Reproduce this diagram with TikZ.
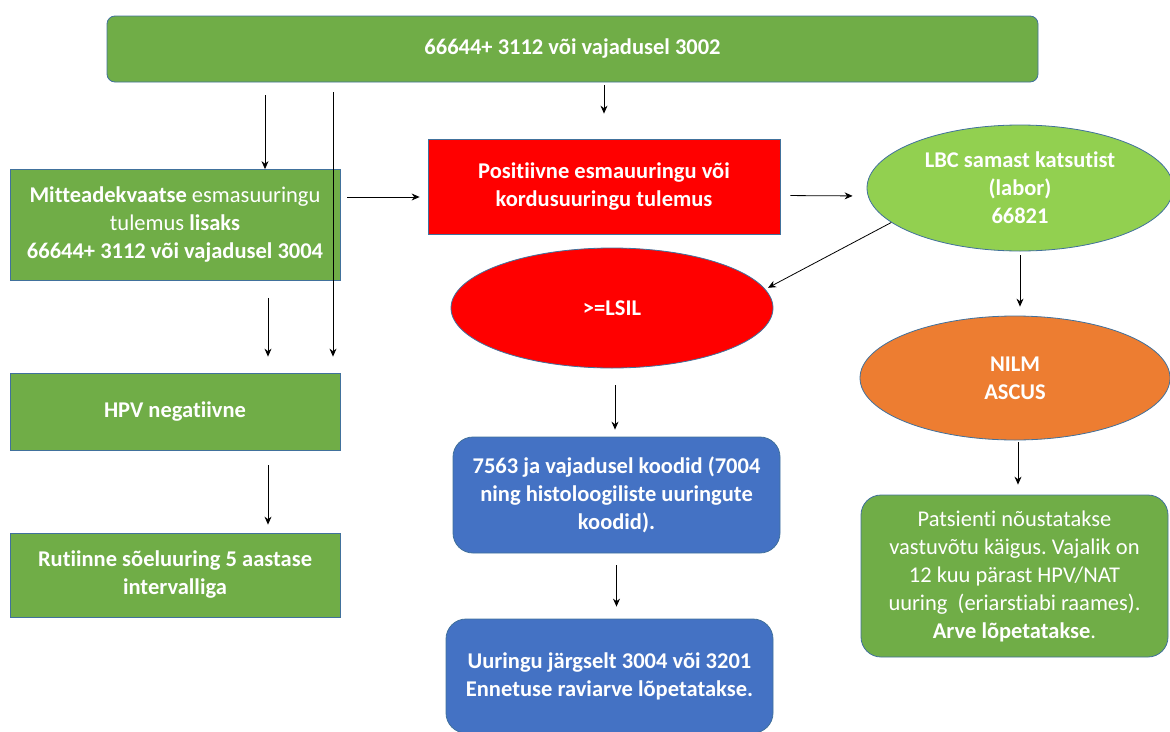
\documentclass[tikz,border=0pt]{standalone}
\usepackage{fontspec}
\setmainfont{Carlito}[Ligatures={NoCommon}]
\usepackage{tikz}
\usetikzlibrary{arrows.meta,shapes.geometric}
\definecolor{kastroheline}{HTML}{70AD47}
\definecolor{heleroheline}{HTML}{92D050}
\definecolor{oranz}{HTML}{ED7D31}
\definecolor{sinine}{HTML}{4472C4}
\definecolor{aaris}{HTML}{41719C}
\frenchspacing

\begin{document}
\begin{tikzpicture}[x=1pt,y=-1pt,
		kast/.style={draw=aaris, line width=0.8pt, text=white, align=center, inner sep=0pt, font=\fontsize{22.5}{28}\selectfont},
		ovaal/.style={kast, ellipse},
		nool/.style={-{Stealth[length=8pt,width=7pt]}, line width=0.8pt}]
			\useasboundingbox (0,0) rectangle (1170,731);
			\node [kast, fill=kastroheline, rounded corners=8pt, minimum width=931pt, minimum height=66pt] (algus) at (572.5,49) {\textbf{66644+ 3112 või vajadusel 3002}};
			\node [kast, fill=kastroheline, minimum width=330pt, minimum height=111pt] (mitteadekv) at (175,225) {\textbf{Mitteadekvaatse} esmasuuringu\\ tulemus \textbf{lisaks}\\ \textbf{66644+ 3112 või vajadusel 3004}};
			\node [kast, fill=kastroheline, minimum width=330pt, minimum height=77pt] (hpvneg) at (175,411.5) {\textbf{HPV negatiivne}};
			\node [kast, fill=kastroheline, minimum width=330pt, minimum height=84pt] (rutiin) at (175,575) {\textbf{Rutiinne sõeluuring 5 aastase}\\ \textbf{intervalliga}};
			\node [kast, fill=red, minimum width=352pt, minimum height=95pt] (positiivne) at (604,186.5) {\textbf{Positiivne esmauuringu või}\\ \textbf{kordusuuringu tulemus}};
			\node [ovaal, fill=heleroheline, minimum width=306pt, minimum height=126pt] (lbc) at (1020,188) {\textbf{LBC samast katsutist}\\ \textbf{(labor)}\\ \textbf{66821}};
			\node [ovaal, fill=red, minimum width=322pt, minimum height=120pt] (lsil) at (612,308) {\textbf{>=LSIL}};
			\node [ovaal, fill=oranz, minimum width=310pt, minimum height=124pt] (nilm) at (1015,378) {\textbf{NILM}\\ \textbf{ASCUS}};
			\node [kast, fill=sinine, rounded corners=20pt, minimum width=327pt, minimum height=116pt] (koodid) at (616.5,495) {\textbf{7563 ja vajadusel koodid (7004}\\ \textbf{ning histoloogiliste uuringute}\\ \textbf{koodid).}};
			\node [kast, fill=sinine, rounded corners=20pt, minimum width=327pt, minimum height=114pt] (raviarve) at (609.5,676) {\textbf{Uuringu järgselt 3004 või 3201}\\ \textbf{Ennetuse raviarve lõpetatakse.}};
			\node [kast, fill=kastroheline, rounded corners=20pt, minimum width=307pt, minimum height=162pt] (noustamine) at (1014.5,576) {Patsienti nõustatakse\\ vastuvõtu käigus. Vajalik on\\ 12 kuu pärast HPV/NAT\\ uuring~ (eriarstiabi raames).\\ \textbf{Arve lõpetatakse}.};
			%
			\draw [nool, shorten <=13pt] ([xshift=90pt]mitteadekv.north |- algus.south) -- ([xshift=90pt]mitteadekv.north);
			\draw [nool, shorten <=10pt, shorten >=16pt] ([xshift=158pt]hpvneg.north |- algus.south) -- ([xshift=158pt]hpvneg.north);
			\draw [nool, shorten <=3pt, shorten >=25pt] (positiivne.north |- algus.south) -- (positiivne.north);
			\draw [nool, shorten <=7pt, shorten >=8pt] ([yshift=28pt]mitteadekv.east) -- ([yshift=28pt]mitteadekv.east -| positiivne.west);
			\draw [nool, shorten <=10pt, shorten >=14pt] ([yshift=-9pt]positiivne.east) -- ([yshift=-8pt]lbc.west);
			\draw [nool, shorten >=3pt] (lbc.195) -- (lsil.7);
			\draw [nool, shorten <=4pt, shorten >=9pt] (lbc.south) -- (lbc.south |- nilm.north);
			\draw [nool, shorten <=17pt, shorten >=16pt] ([xshift=93pt]mitteadekv.south) -- ([xshift=93pt]hpvneg.north);
			\draw [nool, shorten <=15pt, shorten >=8pt] ([xshift=93pt]hpvneg.south) -- ([xshift=93pt]rutiin.north);
			\draw [nool, shorten <=17pt, shorten >=7pt] ([xshift=3pt]lsil.south) -- ([xshift=3pt]lsil.south |- koodid.north);
			\draw [nool, shorten <=12pt, shorten >=12pt] (koodid.south) -- (koodid.south |- raviarve.north);
			\draw [nool, shorten <=2pt, shorten >=10pt] ([xshift=3pt]nilm.south) -- ([xshift=3pt]nilm.south |- noustamine.north);
\end{tikzpicture}
\end{document}
